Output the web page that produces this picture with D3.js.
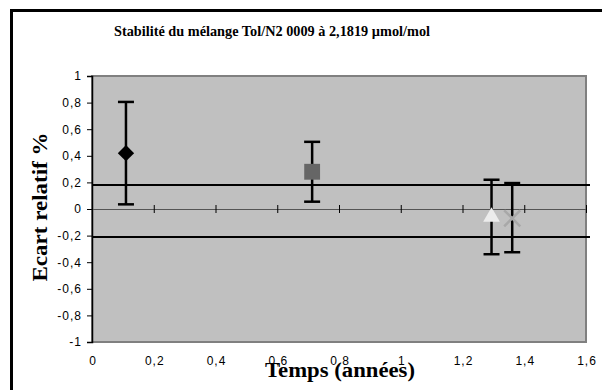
<!DOCTYPE html>
<html>
<head>
<meta charset="utf-8">
<script src="https://cdn.jsdelivr.net/npm/d3@7"></script>
<style>
  body { margin: 0; background: #fff; }
  svg { display: block; }
</style>
</head>
<body>
<div id="chart"></div>
<script>
// Data
const times = [0.11, 0.713, 1.294, 1.361];
const values = [0.42, 0.28, -0.06, -0.07];
const errHigh = [0.805, 0.505, 0.22, 0.195];
const errLow = [0.035, 0.055, -0.34, -0.325];
const limits = [0.18, -0.21];
const xTicks = [0, 0.2, 0.4, 0.6, 0.8, 1, 1.2, 1.4, 1.6];
const yTicks = [-1, -0.8, -0.6, -0.4, -0.2, 0, 0.2, 0.4, 0.6, 0.8, 1];
const markers = ["diamond", "square", "triangle", "cross"];

const width = 602;
const height = 390;
const plot = { left: 92, right: 586, top: 76, bottom: 342 };
const serif = "Liberation Serif, Times New Roman, serif";
const sans = "Liberation Sans, Arial, sans-serif";

const svg = d3.select("#chart")
    .append("svg")
    .attr("width", width)
    .attr("height", height);

// Outer frame (runs past the right and bottom edges)
svg.append("rect")
    .attr("x", 11.5).attr("y", 10.5)
    .attr("width", 620).attr("height", 420)
    .attr("fill", "none")
    .attr("stroke", "#000")
    .attr("stroke-width", 3);

const x = d3.scaleLinear().domain([0, 1.6]).range([plot.left, plot.right]);
const y = d3.scaleLinear().domain([-1, 1]).range([plot.bottom, plot.top]);
const fmt = d => String(d).replace(".", ",");

// Plot area
svg.append("rect")
    .attr("x", plot.left).attr("y", plot.top)
    .attr("width", plot.right - plot.left)
    .attr("height", plot.bottom - plot.top)
    .attr("fill", "#c0c0c0")
    .attr("stroke", "#808080")
    .attr("stroke-width", 2);

// Title
svg.append("text")
    .attr("x", 272).attr("y", 36)
    .attr("text-anchor", "middle")
    .attr("font-family", serif)
    .attr("font-weight", "bold")
    .attr("font-size", 14)
    .attr("textLength", 316)
    .attr("lengthAdjust", "spacingAndGlyphs")
    .text("Stabilité du mélange Tol/N2 0009 à 2,1819 µmol/mol");

// Y axis
const yAxis = svg.append("g")
    .attr("transform", `translate(${plot.left},0)`)
    .call(d3.axisLeft(y).tickValues(yTicks).tickSize(5).tickPadding(5).tickFormat(fmt));
yAxis.select(".domain").attr("stroke", "#000").attr("stroke-width", 1.5);
yAxis.selectAll("text")
    .attr("font-family", sans)
    .attr("font-size", 12)
    .attr("letter-spacing", 1)
    .attr("fill", "#000");

// X axis line at zero with crossing ticks
const xAxis = svg.append("g")
    .attr("transform", `translate(0,${y(0)})`)
    .call(d3.axisBottom(x).tickValues(xTicks).tickSize(0).tickFormat(""));
xAxis.select(".domain").attr("stroke", "#555").attr("stroke-width", 1);
xAxis.selectAll(".tick line")
    .attr("y1", -4).attr("y2", 4)
    .attr("stroke", "#000");

// X tick labels below the plot
svg.selectAll(".xlabel")
    .data(xTicks)
    .enter()
    .append("text")
    .attr("class", "xlabel")
    .attr("x", d => x(d) + 1)
    .attr("y", 365)
    .attr("text-anchor", "middle")
    .attr("font-family", sans)
    .attr("font-size", 12)
    .attr("letter-spacing", 1)
    .text(fmt);

// Limit lines
svg.selectAll(".limit")
    .data(limits)
    .enter()
    .append("line")
    .attr("x1", x(0)).attr("x2", x(1.6) + 4)
    .attr("y1", d => y(d)).attr("y2", d => y(d))
    .attr("stroke", "#000")
    .attr("stroke-width", 2);

// Error bars
const bars = svg.selectAll(".err")
    .data(times.map((t, i) => ({ t, hi: errHigh[i], lo: errLow[i] })))
    .enter()
    .append("g")
    .attr("stroke", "#000")
    .attr("stroke-width", 2.5);
bars.append("line")
    .attr("x1", d => x(d.t)).attr("x2", d => x(d.t))
    .attr("y1", d => y(d.hi)).attr("y2", d => y(d.lo));
bars.append("line")
    .attr("x1", d => x(d.t) - 8).attr("x2", d => x(d.t) + 8)
    .attr("y1", d => y(d.hi)).attr("y2", d => y(d.hi));
bars.append("line")
    .attr("x1", d => x(d.t) - 8).attr("x2", d => x(d.t) + 8)
    .attr("y1", d => y(d.lo)).attr("y2", d => y(d.lo));

// Markers
const symbolType = {
    diamond: d3.symbolDiamond2,
    square: d3.symbolSquare2,
    triangle: d3.symbolTriangle2,
    cross: d3.symbolX
};
const symbolSize = { diamond: 170, square: 320, triangle: 200, cross: 170 };
const fill = { diamond: "#000", square: "#666", triangle: "#ececec", cross: "none" };
svg.selectAll(".pt")
    .data(times.map((t, i) => ({ t, v: values[i], m: markers[i] })))
    .enter()
    .append("path")
    .attr("transform", d => `translate(${x(d.t)},${y(d.v)})`)
    .attr("d", d => d3.symbol().type(symbolType[d.m]).size(symbolSize[d.m])())
    .attr("fill", d => fill[d.m])
    .attr("stroke", d => d.m === "cross" ? "#a8a8a8" : "none")
    .attr("stroke-width", 2.5);

// Axis titles
svg.append("text")
    .attr("x", 340).attr("y", 377)
    .attr("text-anchor", "middle")
    .attr("font-family", serif)
    .attr("font-weight", "bold")
    .attr("font-size", 20)
    .attr("textLength", 150)
    .attr("lengthAdjust", "spacingAndGlyphs")
    .text("Temps (années)");

svg.append("text")
    .attr("transform", `translate(47,207) rotate(-90)`)
    .attr("text-anchor", "middle")
    .attr("font-family", serif)
    .attr("font-weight", "bold")
    .attr("font-size", 20)
    .attr("textLength", 149)
    .attr("lengthAdjust", "spacingAndGlyphs")
    .text("Ecart relatif %");
</script>
</body>
</html>
